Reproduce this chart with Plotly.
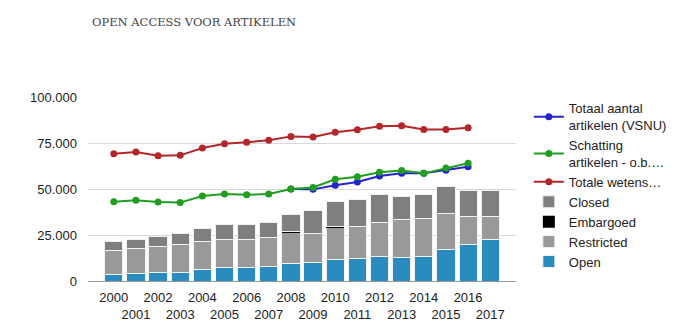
import plotly.graph_objects as go

years = [str(y) for y in range(2000, 2018)]
tick_labels = [y if int(y) % 2 == 0 else "<br>" + y for y in years]

open_vals = [3400, 4000, 4500, 4700, 6500, 7400, 7400, 8000, 9400, 10200, 11800, 12300, 13400, 12900, 13400, 17200, 19900, 22600]
restricted_vals = [13300, 13800, 14000, 15400, 15200, 15400, 15400, 15400, 17200, 15400, 17500, 17100, 18200, 20500, 20400, 19500, 15000, 12300]
embargoed_vals = [0, 0, 0, 0, 0, 0, 0, 0, 150, 150, 150, 150, 150, 150, 150, 150, 150, 150]
closed_vals = [4900, 4900, 5800, 5800, 6900, 8000, 8000, 8500, 9600, 12700, 13900, 14900, 15400, 12500, 13200, 14300, 14300, 14300]

totaal_vsnu = [None] * 8 + [50000, 49800, 52000, 53800, 57100, 58500, 58500, 60200, 62100, None]
schatting = [43100, 43900, 42900, 42600, 46200, 47300, 46900, 47300, 50000, 50800, 55300, 56700, 59100, 60000, 58500, 61400, 64000, None]
totale_wetens = [69200, 70100, 68100, 68300, 72300, 74600, 75400, 76500, 78600, 78300, 80800, 82200, 84100, 84400, 82400, 82400, 83300, None]

fig = go.Figure()
bar_specs = [
    ("Open", open_vals, "#2a8bbf", 7),
    ("Restricted", restricted_vals, "#99989a", 6),
    ("Embargoed", embargoed_vals, "#000000", 5),
    ("Closed", closed_vals, "#7f7f7f", 4),
]
for name, vals, col, rank in bar_specs:
    fig.add_trace(go.Bar(
        x=years, y=vals, name=name, marker=dict(color=col,
        line=dict(color="#f2f2f2", width=0 if name == "Embargoed" else 1)),
        legendrank=rank,
    ))

line_specs = [
    ("Totaal aantal<br>artikelen (VSNU)", totaal_vsnu, "#2424cc", 1),
    ("Schatting<br>artikelen - o.b.…", schatting, "#1f9e1f", 2),
    ("Totale wetens…", totale_wetens, "#b3262a", 3),
]
for name, vals, col, rank in line_specs:
    fig.add_trace(go.Scatter(
        x=years, y=vals, name=name, mode="lines+markers",
        line=dict(color=col, width=2), marker=dict(color=col, size=7),
        legendrank=rank,
    ))

fig.update_layout(
    width=684, height=328,
    barmode="stack", bargap=0.18,
    separators=",.",
    plot_bgcolor="white", paper_bgcolor="white",
    margin=dict(l=88, r=155, t=97, b=47),
    font=dict(family="Liberation Sans, Arial, sans-serif", size=13, color="#222222"),
    title=dict(text="OPEN ACCESS VOOR ARTIKELEN", x=92 / 684, xanchor="left",
               y=1 - 22 / 328, yanchor="middle",
               font=dict(family="DejaVu Serif", size=11.5, color="#444444")),
    legend=dict(x=1.03, xanchor="left", y=1.02, yanchor="top", traceorder="normal",
                font=dict(size=13, color="#222222"), tracegroupgap=0,
                bgcolor="rgba(0,0,0,0)", maxheight=320),
    showlegend=True,
)
fig.update_xaxes(type="category", tickmode="array", tickvals=years, ticktext=tick_labels,
                 tickangle=0, showgrid=False, ticks="", ticklabelstandoff=7, automargin=False,
                 tickfont=dict(size=13, color="#222222"))
fig.update_yaxes(range=[0, 100000], tickvals=[0, 25000, 50000, 75000, 100000],
                 tickformat=",d", showgrid=True, gridcolor="#d9d9d9",
                 zeroline=True, zerolinecolor="#999999", zerolinewidth=1, automargin=False,
                 ticks="", ticklabelstandoff=10, tickfont=dict(size=13, color="#222222"))

fig.write_html("out.html")
